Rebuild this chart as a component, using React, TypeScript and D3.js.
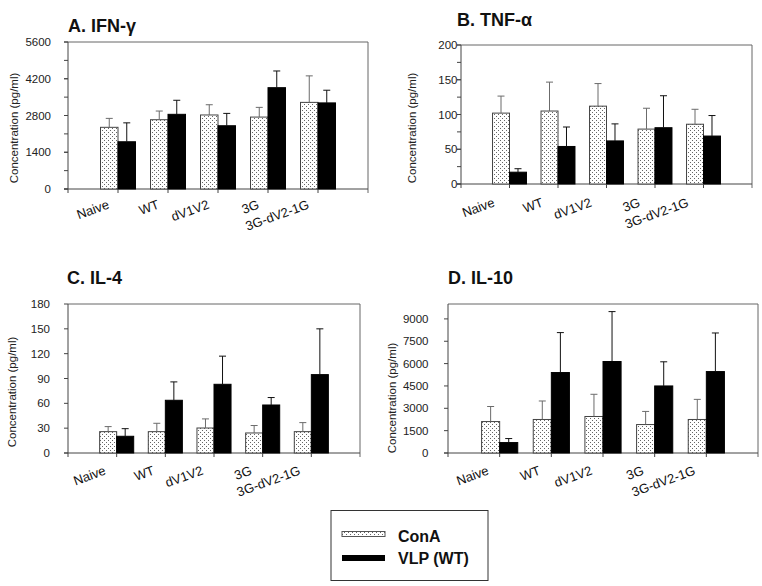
import * as d3 from 'd3';

const categories = ['Naive', 'WT', 'dV1V2', '3G', '3G-dV2-1G'];

// A. IFN-gamma (pg/ml): mean and upper error
const ifnConA = [2350, 2640, 2820, 2740, 3300];
const ifnConAErr = [340, 330, 390, 370, 1010];
const ifnVlp = [1800, 2845, 2410, 3860, 3280];
const ifnVlpErr = [720, 535, 470, 636, 483];

// B. TNF-alpha
const tnfConA = [102, 105, 112, 79, 86];
const tnfConAErr = [24.5, 41.6, 32.5, 30, 21.5];
const tnfVlp = [17, 54, 62, 81, 69];
const tnfVlpErr = [5, 28, 24.5, 46, 29.5];

// C. IL-4
const il4ConA = [25.8, 25.8, 30.2, 24.2, 25.8];
const il4ConAErr = [6.1, 10.1, 11, 9, 10.9];
const il4Vlp = [20.2, 63.7, 83, 58, 94.7];
const il4VlpErr = [9.2, 22.2, 34, 9, 55.3];

// D. IL-10
const il10ConA = [2110, 2250, 2450, 1910, 2250];
const il10ConAErr = [1010, 1240, 1490, 880, 1350];
const il10Vlp = [700, 5400, 6140, 4500, 5465];
const il10VlpErr = [270, 2680, 3350, 1620, 2590];

const seriesNames = ['ConA', 'VLP (WT)'];

const FONT = '"Liberation Sans", Arial, Helvetica, sans-serif';

const panels = [
  {
    title: 'A. IFN-\u03b3', tx: 68, ty: 31.5,
    x0: 68, x1: 368, yTop: 42, yBot: 189,
    max: 5600, tickMax: 5600, step: 1400, minor: 700,
    labelRight: 51, titleX: 13.5, titleY: 128, dx: -8, dy: 19,
    conA: ifnConA, conAErr: ifnConAErr, vlp: ifnVlp, vlpErr: ifnVlpErr,
  },
  {
    title: 'B. TNF-\u03b1', tx: 457, ty: 25.5,
    x0: 461, x1: 752, yTop: 45, yBot: 184,
    max: 200, tickMax: 200, step: 50, minor: 25,
    labelRight: 457.5, titleX: 411.5, titleY: 128, dx: -14, dy: 22,
    conA: tnfConA, conAErr: tnfConAErr, vlp: tnfVlp, vlpErr: tnfVlpErr,
  },
  {
    title: 'C. IL-4', tx: 67, ty: 284,
    x0: 68, x1: 360, yTop: 304, yBot: 453,
    max: 180, tickMax: 180, step: 30, minor: 0,
    labelRight: 50, titleX: 11.5, titleY: 392, dx: -10, dy: 21,
    conA: il4ConA, conAErr: il4ConAErr, vlp: il4Vlp, vlpErr: il4VlpErr,
  },
  {
    title: 'D. IL-10', tx: 448, ty: 284,
    x0: 448, x1: 758, yTop: 304, yBot: 453,
    max: 10000, tickMax: 9000, step: 1500, minor: 0,
    labelRight: 428.5, titleX: 391.5, titleY: 398, dx: -10, dy: 21,
    conA: il10ConA, conAErr: il10ConAErr, vlp: il10Vlp, vlpErr: il10VlpErr,
  },
];

function Panel({ p }: { p: any }) {
  const x = d3.scaleBand<string>()
    .domain(categories)
    .range([p.x0, p.x1])
    .paddingInner(0)
    .paddingOuter(0.5);
  const y = d3.scaleLinear().domain([0, p.max]).range([p.yBot, p.yTop]);
  const bw = x.step() * 0.35;
  const ticks = d3.range(0, p.tickMax + 1e-9, p.step);
  const minor = p.minor ? d3.range(0, p.max + 1e-9, p.minor) : [];
  const cx = (c: string) => (x(c) as number) + x.bandwidth() / 2;

  const errBar = (xm: number, v: number, e: number, color: string, key: string) => (
    <g key={key} stroke={color} strokeWidth={1}>
      <line x1={xm} x2={xm} y1={y(v)} y2={y(v + e)} />
      <line x1={xm - 3.5} x2={xm + 3.5} y1={y(v + e)} y2={y(v + e)} />
    </g>
  );

  return (
    <g fontFamily={FONT}>
      <text x={p.tx} y={p.ty} fontSize={18} fontWeight="bold" fill="#111">{p.title}</text>
      {/* plot frame */}
      <line x1={p.x0} x2={p.x1} y1={p.yTop} y2={p.yTop} stroke="#666" />
      <line x1={p.x1} x2={p.x1} y1={p.yTop} y2={p.yBot + 4} stroke="#666" />
      <line x1={p.x0} x2={p.x0} y1={p.yTop} y2={p.yBot + 4} stroke="#444" />
      <line x1={p.x0 - 4} x2={p.x1} y1={p.yBot} y2={p.yBot} stroke="#444" />
      {minor.map((t: number) => (
        <line key={'m' + t} x1={p.x0 - 4} x2={p.x0} y1={y(t)} y2={y(t)} stroke="#444" />
      ))}
      {ticks.map((t: number) => (
        <g key={'t' + t}>
          <line x1={p.x0 - 4} x2={p.x0} y1={y(t)} y2={y(t)} stroke="#444" />
          <text x={p.labelRight} y={y(t)} dy="0.35em" textAnchor="end" fontSize={11.5} fill="#222">
            {t}
          </text>
        </g>
      ))}
      <text
        x={p.titleX} y={p.titleY}
        transform={`rotate(-90 ${p.titleX} ${p.titleY})`}
        dy="0.35em" textAnchor="middle" fontSize={11.5} fill="#222"
      >Concentration (pg/ml)</text>
      {categories.map((c, i) => {
        const lx = cx(c) + p.dx;
        const ly = p.yBot + p.dy;
        return (
          <g key={c}>
            <rect x={cx(c) - bw} y={y(p.conA[i])} width={bw} height={p.yBot - y(p.conA[i])}
              fill="url(#dots)" stroke="#444" strokeWidth={1} />
            <rect x={cx(c)} y={y(p.vlp[i])} width={bw} height={p.yBot - y(p.vlp[i])}
              fill="#000" stroke="#000" strokeWidth={1} />
            {errBar(cx(c) - bw / 2, p.conA[i], p.conAErr[i], '#6b6b6b', 'ec' + c)}
            {errBar(cx(c) + bw / 2, p.vlp[i], p.vlpErr[i], '#111', 'ev' + c)}
            <line x1={cx(c)} x2={cx(c)} y1={p.yBot} y2={p.yBot + 4} stroke="#444" />
            <text x={lx} y={ly} transform={`rotate(-20 ${lx} ${ly})`}
              textAnchor="end" fontSize={13} fill="#111">{c}</text>
          </g>
        );
      })}
    </g>
  );
}

export default function App() {
  return (
    <svg width={762} height={586} viewBox="0 0 762 586"
      style={{ position: 'absolute', left: 0, top: 0, background: '#fff' }}>
      <defs>
        <pattern id="dots" width={4} height={4} patternUnits="userSpaceOnUse">
          <rect width={4} height={4} fill="#fff" />
          <rect x={0} y={0} width={1} height={1} fill="#666" />
          <rect x={2} y={2} width={1} height={1} fill="#666" />
        </pattern>
      </defs>
      <rect width={762} height={586} fill="#fff" />
      {panels.map((p) => <Panel key={p.title} p={p} />)}
      {/* legend */}
      <g fontFamily={FONT}>
        <rect x={331} y={510.5} width={157} height={70} fill="none" stroke="#333" />
        <rect x={342} y={531.5} width={43} height={5} fill="url(#dots)" stroke="#555" />
        <rect x={342} y={555} width={43} height={6} fill="#000" />
        <text x={398} y={541.5} fontSize={16} fontWeight="bold" fill="#111">{seriesNames[0]}</text>
        <text x={398} y={564} fontSize={16} fontWeight="bold" fill="#111">{seriesNames[1]}</text>
      </g>
    </svg>
  );
}
